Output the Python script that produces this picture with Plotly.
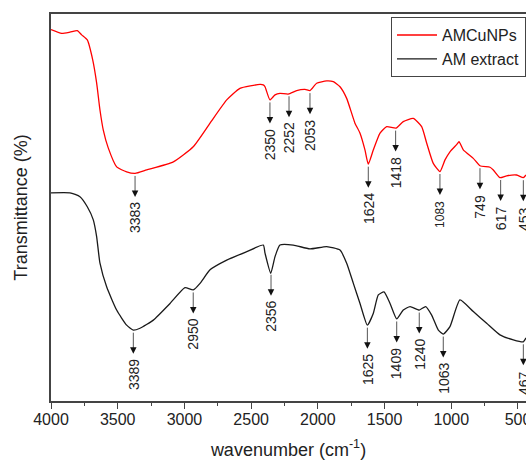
import numpy as np
import plotly.graph_objects as go

# ---------------- data ----------------
wn_red = [4000, 3920, 3858, 3803, 3770, 3728, 3687, 3658, 3633, 3608,
          3571, 3508, 3433, 3370, 3283, 3083, 2934, 2808, 2683, 2584,
          2434, 2409, 2396, 2359, 2321, 2284, 2222, 2159, 2096, 2059,
          2009, 1934, 1884, 1834, 1784, 1722, 1684, 1647, 1622, 1584,
          1534, 1484, 1414, 1360, 1285, 1222, 1184, 1135, 1085, 1047,
          1010, 959, 942, 910, 835, 785, 710, 685, 635, 585,
          510, 460, 440]
t_red = [96.0, 95.0, 95.3, 95.7, 94.6, 93.3, 88.1, 82.2, 75.2, 70.0,
         65.4, 60.5, 59.2, 58.8, 59.7, 61.8, 65.7, 71.8, 77.8, 80.8,
         81.8, 81.7, 81.2, 77.8, 79.1, 79.5, 79.3, 80.2, 80.5, 80.2,
         82.1, 82.7, 82.5, 81.2, 78.2, 71.8, 69.2, 64.9, 61.2, 64.9,
         69.2, 70.9, 70.5, 72.2, 73.0, 70.9, 66.6, 61.4, 59.3, 62.3,
         64.4, 66.3, 67.0, 64.9, 62.7, 60.8, 60.4, 59.7, 57.7, 58.2,
         58.4, 57.7, 58.4]

wn_blk = [4000, 3858, 3783, 3728, 3683, 3658, 3633, 3583, 3508, 3433,
          3383, 3333, 3233, 3108, 2996, 2934, 2883, 2808, 2683, 2533,
          2409, 2396, 2353, 2321, 2284, 2184, 2059, 1934, 1834, 1784,
          1734, 1684, 1629, 1584, 1547, 1504, 1459, 1409, 1360, 1309,
          1240, 1192, 1147, 1097, 1060, 1010, 935, 835, 735, 635,
          535, 460, 440]
t_blk = [53.8, 53.8, 52.8, 50.2, 46.8, 42.5, 35.6, 29.5, 23.5, 19.6,
         18.3, 18.8, 20.9, 25.2, 29.3, 28.7, 30.4, 33.9, 36.4, 38.6,
         40.3, 38.2, 33.0, 37.3, 40.3, 40.3, 39.3, 39.9, 39.0, 35.6,
         30.4, 25.2, 19.6, 22.7, 27.4, 28.2, 25.2, 21.2, 23.5, 24.4,
         23.5, 24.4, 22.2, 18.3, 17.3, 19.2, 26.1, 23.1, 20.1, 17.1,
         15.8, 15.3, 16.3]

red_labels = ["3383", "2350", "2252", "2053", "1624", "1418", "1083", "749", "617", "453"]
red_peak_x = [3370, 2359, 2216, 2059, 1622, 1417, 1085, 785, 630, 460]
blk_labels = ["3389", "2950", "2356", "1625", "1409", "1240", "1063", "467"]
blk_peak_x = [3383, 2934, 2351, 1629, 1409, 1240, 1060, 460]

series_names = ["AMCuNPs", "AM extract"]
x_tickvals = [4000, 3500, 3000, 2500, 2000, 1500, 1000, 500]

# ---------------- styles ----------------
FONT = "Liberation Sans, Arial, sans-serif"
RED = "#ff0000"
BLK = "#1a1a1a"
AXC = "#444444"
label_size = {"1083": 12}
Y_RANGE = [0, 100]
PLOT_H = 462 - 14 - 61          # plot-area height in px
PX = (Y_RANGE[1] - Y_RANGE[0]) / PLOT_H   # data units per pixel
GAP_PX, LEN_PX, TXT_PX = 2.5, 21.0, 4.5

fig = go.Figure()
fig.add_trace(go.Scatter(x=wn_red, y=t_red, mode="lines", name=series_names[0],
                         line=dict(color=RED, width=1.3, shape="spline", smoothing=0.5)))
fig.add_trace(go.Scatter(x=wn_blk, y=t_blk, mode="lines", name=series_names[1],
                         line=dict(color=BLK, width=1.3, shape="spline", smoothing=0.5)))

annotations = []
ax_line_x, ax_line_y, head_x, head_y = [], [], [], []

def add_peaks(wn, t, xs, labels):
    xr = np.array(wn[::-1], float)
    yr = np.array(t[::-1], float)
    for px, lab in zip(xs, labels):
        yc = float(np.interp(px, xr, yr))
        y_tail = yc - GAP_PX * PX
        y_tip = y_tail - LEN_PX * PX
        ax_line_x.extend([px, px, None])
        ax_line_y.extend([y_tail, y_tip + 3 * PX, None])
        head_x.append(px)
        head_y.append(y_tip)
        annotations.append(dict(x=px, y=y_tip, xref="x", yref="y", text=lab,
                                showarrow=False, textangle=-90,
                                xanchor="center", yanchor="top", yshift=-TXT_PX,
                                font=dict(family=FONT, size=label_size.get(lab, 14), color="#222222"),
                                borderpad=0))

add_peaks(wn_red, t_red, red_peak_x, red_labels)
add_peaks(wn_blk, t_blk, blk_peak_x, blk_labels)

fig.add_trace(go.Scatter(x=ax_line_x, y=ax_line_y, mode="lines", showlegend=False,
                         hoverinfo="skip", line=dict(color="#555555", width=1)))
fig.add_trace(go.Scatter(x=head_x, y=head_y, mode="markers", showlegend=False,
                         hoverinfo="skip",
                         marker=dict(symbol="arrow-down", size=6.5, color="#111111",
                                     line=dict(width=0))))

fig.update_layout(
    width=526, height=462,
    margin=dict(l=51, r=0, t=14, b=61, pad=0),
    paper_bgcolor="white", plot_bgcolor="white",
    font=dict(family=FONT, color="#222222"),
    showlegend=True,
    legend=dict(x=1, xanchor="right", y=0.992, yanchor="top",
                bgcolor="white", bordercolor=AXC, borderwidth=1,
                font=dict(family=FONT, size=16, color="#222222"),
                tracegroupgap=0, itemwidth=40),
    annotations=annotations,
    xaxis=dict(range=[4000, 440], autorange=False,
               tickvals=x_tickvals, ticktext=[str(v) for v in x_tickvals],
               ticks="outside", ticklen=6, tickwidth=1.3, tickcolor=AXC,
               ticklabeloverflow="allow", ticklabelstandoff=-3,
               minor=dict(ticks="outside", ticklen=3, tickwidth=1.2, tickcolor=AXC,
                          dtick=250, tick0=0, showgrid=False),
               showline=True, linecolor=AXC, linewidth=1.5, mirror=True,
               showgrid=False, zeroline=False,
               tickfont=dict(family=FONT, size=16, color="#222222"),
               title=dict(text="wavenumber (cm<sup>-1</sup>)", standoff=16,
                          font=dict(family=FONT, size=18, color="#222222")),
               automargin=False),
    yaxis=dict(range=Y_RANGE, autorange=False,
               showticklabels=False, ticks="",
               showline=True, linecolor=AXC, linewidth=1.5, mirror=False,
               showgrid=False, zeroline=False,
               title=dict(text="Transmittance (%)", standoff=17,
                          font=dict(family=FONT, size=18, color="#222222")),
               automargin=False),
)

fig.write_html("out.html", config={"displayModeBar": False},
               post_script="document.body.style.margin='0';document.body.style.padding='0';")
